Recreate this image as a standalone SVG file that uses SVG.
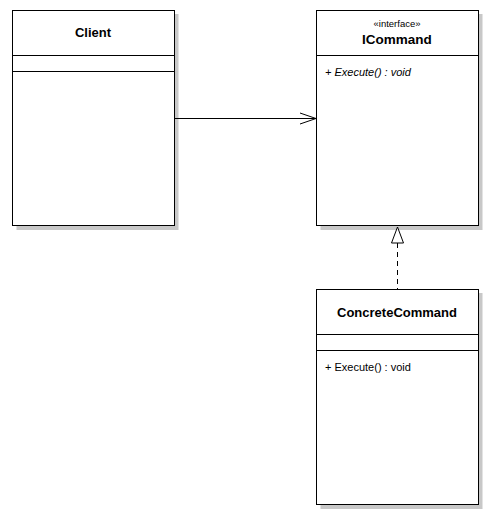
<svg xmlns="http://www.w3.org/2000/svg" width="493" height="518" viewBox="0 0 493 518">
<style>
.shadow{fill:#c8c8c8}
.box{fill:#fff;stroke:#000;stroke-width:1}
.sep{stroke:#000;stroke-width:1}
.title{font-family:"Liberation Sans",Arial,sans-serif;font-size:13px;font-weight:bold;text-anchor:middle}
.stereo{font-family:"Liberation Sans",Arial,sans-serif;font-size:9.5px;text-anchor:middle}
.op{font-family:"Liberation Sans",Arial,sans-serif;font-size:11px}
</style>
<rect width="493" height="518" fill="#fff"/>
<g id="Client">
<rect class="shadow" x="16.5" y="14" width="162" height="216"/>
<rect class="box" x="12.5" y="10.5" width="162" height="215"/>
<line class="sep" x1="12.5" y1="55.5" x2="174.5" y2="55.5"/>
<line class="sep" x1="12.5" y1="71.5" x2="174.5" y2="71.5"/>
<text class="title" x="93" y="37">Client</text>
</g>
<g id="ICommand">
<rect class="shadow" x="320.5" y="14" width="162" height="216"/>
<rect class="box" x="316.5" y="10.5" width="162" height="215"/>
<line class="sep" x1="316.5" y1="55.5" x2="478.5" y2="55.5"/>
<text class="stereo" x="397" y="27">«interface»</text>
<text class="title" x="397" y="44" style="font-size:13.5px">ICommand</text>
<text class="op" x="325" y="76" font-style="italic">+ Execute() : void</text>
</g>
<g id="ConcreteCommand">
<rect class="shadow" x="320.5" y="293" width="162" height="216"/>
<rect class="box" x="316.5" y="289.5" width="162" height="215"/>
<line class="sep" x1="316.5" y1="334.5" x2="478.5" y2="334.5"/>
<line class="sep" x1="316.5" y1="350.5" x2="478.5" y2="350.5"/>
<text class="title" x="397" y="317">ConcreteCommand</text>
<text class="op" x="325" y="371">+ Execute() : void</text>
</g>
<g id="connectors" fill="none" stroke="#000" stroke-width="1">
<line x1="174.5" y1="118.5" x2="316" y2="118.5"/>
<polyline points="300,113 316,118.5 300,124"/>
<line x1="397.5" y1="243" x2="397.5" y2="289" stroke-dasharray="5,4"/>
<polygon points="397.5,227 391.5,243 403.5,243" fill="#fff"/>
</g>
</svg>
